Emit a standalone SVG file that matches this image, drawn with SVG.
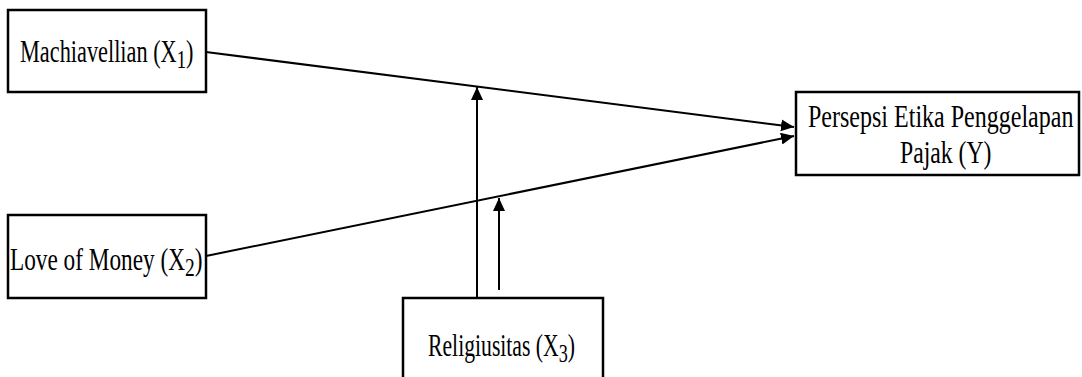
<svg xmlns="http://www.w3.org/2000/svg" width="1082" height="377" viewBox="0 0 1082 377">
<style>
.box{fill:#fff;stroke:#000;stroke-width:2.5}
.t{font-family:'Liberation Serif','Times New Roman','DejaVu Serif',serif;font-size:31px;fill:#000}
.sub{font-size:26px}
.c{stroke:#000;stroke-width:2;fill:none}
</style>
<defs>
<marker id="ah" markerUnits="userSpaceOnUse" markerWidth="14" markerHeight="12" refX="13" refY="6" orient="auto">
<path d="M0,0 L13,6 L0,12 z" fill="#000"/>
</marker>
</defs>
<rect width="1082" height="377" fill="#fff"/>
<g id="connectors">
<line class="c" x1="206" y1="52" x2="794" y2="127" marker-end="url(#ah)"/>
<line class="c" x1="206" y1="256" x2="794" y2="136" marker-end="url(#ah)"/>
<line class="c" x1="477" y1="298" x2="477" y2="87" marker-end="url(#ah)"/>
<line class="c" x1="499" y1="290" x2="499" y2="198" marker-end="url(#ah)"/>
</g>
<g id="node-x1">
<rect class="box" x="8" y="10" width="198" height="82"/>
<text class="t" font-family="Liberation Serif" transform="translate(20,62) scale(0.72,1)">Machiavellian (X<tspan class="sub" dy="6">1</tspan><tspan dy="-6">)</tspan></text>
</g>
<g id="node-x2">
<rect class="box" x="8" y="215" width="198" height="83"/>
<text class="t" font-family="Liberation Serif" transform="translate(10,270) scale(0.75,1)">Love of Money (X<tspan class="sub" dy="6">2</tspan><tspan dy="-6">)</tspan></text>
</g>
<g id="node-x3">
<rect class="box" x="403" y="298" width="200" height="100"/>
<text class="t" font-family="Liberation Serif" transform="translate(428,356) scale(0.70,1)">Religiusitas (X<tspan class="sub" dy="6">3</tspan><tspan dy="-6">)</tspan></text>
</g>
<g id="node-y">
<rect class="box" x="796" y="92" width="283" height="83"/>
<text class="t" font-family="Liberation Serif" transform="translate(808,127) scale(0.775,1)">Persepsi Etika Penggelapan</text>
<text class="t" font-family="Liberation Serif" transform="translate(900,163) scale(0.765,1)">Pajak (Y)</text>
</g>
</svg>
